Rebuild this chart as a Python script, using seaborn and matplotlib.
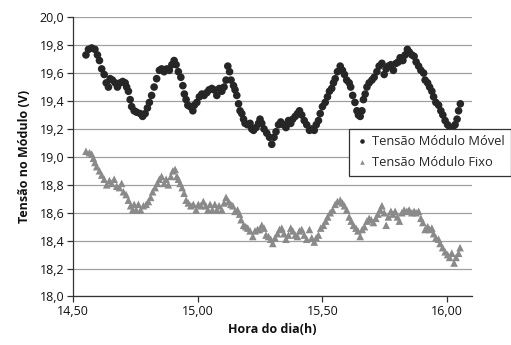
import matplotlib
matplotlib.use("Agg")
import matplotlib.pyplot as plt
import matplotlib.ticker as mticker
import seaborn as sns
import pandas as pd

movel_label = "Tensão Módulo Móvel"
fixo_label = "Tensão Módulo Fixo"

movel_h = [14.553,14.563,14.576,14.589,14.599,14.607,14.616,14.626,14.634,14.643,
14.650,14.659,14.670,14.679,14.690,14.700,14.710,14.716,14.723,14.730,
14.736,14.746,14.756,14.770,14.780,14.790,14.799,14.807,14.816,14.826,
14.836,14.847,14.856,14.866,14.877,14.887,14.897,14.906,14.914,14.923,
14.933,14.941,14.947,14.954,14.961,14.970,14.981,14.987,14.997,15.007,
15.017,15.026,15.037,15.046,15.057,15.066,15.077,15.087,15.097,15.106,
15.114,15.121,15.128,15.134,15.144,15.150,15.157,15.164,15.170,15.177,
15.184,15.190,15.200,15.210,15.217,15.224,15.234,15.244,15.250,15.257,
15.266,15.277,15.288,15.297,15.306,15.314,15.324,15.333,15.344,15.354,
15.364,15.373,15.381,15.391,15.400,15.408,15.417,15.427,15.437,15.448,
15.457,15.467,15.475,15.484,15.491,15.500,15.511,15.520,15.528,15.537,
15.544,15.551,15.560,15.571,15.580,15.588,15.597,15.607,15.613,15.621,
15.630,15.638,15.644,15.651,15.658,15.664,15.671,15.678,15.687,15.698,
15.707,15.718,15.727,15.738,15.747,15.755,15.764,15.774,15.784,15.795,
15.804,15.811,15.822,15.831,15.840,15.848,15.858,15.867,15.875,15.885,
15.894,15.905,15.911,15.921,15.929,15.938,15.945,15.954,15.965,15.974,
15.982,15.991,16.001,16.011,16.021,16.031,16.039,16.045,16.052]

movel_v = [19.73,19.77,19.78,19.77,19.73,19.69,19.63,19.59,19.53,19.50,
19.56,19.55,19.53,19.50,19.53,19.54,19.53,19.50,19.47,19.41,
19.36,19.33,19.32,19.31,19.29,19.31,19.35,19.39,19.44,19.50,
19.56,19.62,19.63,19.61,19.63,19.62,19.66,19.69,19.66,19.61,
19.57,19.51,19.45,19.41,19.37,19.36,19.33,19.37,19.39,19.43,
19.45,19.44,19.46,19.48,19.49,19.48,19.44,19.49,19.47,19.50,
19.55,19.65,19.61,19.55,19.51,19.48,19.44,19.38,19.33,19.31,
19.27,19.24,19.23,19.24,19.20,19.19,19.21,19.24,19.27,19.24,
19.20,19.17,19.14,19.09,19.14,19.18,19.23,19.25,19.23,19.21,
19.26,19.24,19.27,19.29,19.31,19.33,19.30,19.26,19.23,19.19,
19.20,19.19,19.23,19.26,19.31,19.36,19.39,19.43,19.47,19.49,
19.53,19.56,19.61,19.65,19.62,19.59,19.55,19.53,19.50,19.44,
19.39,19.33,19.30,19.29,19.33,19.41,19.45,19.50,19.53,19.55,
19.57,19.61,19.65,19.67,19.59,19.63,19.65,19.66,19.62,19.67,
19.68,19.71,19.69,19.73,19.77,19.75,19.73,19.72,19.68,19.65,
19.62,19.60,19.55,19.53,19.50,19.47,19.43,19.39,19.37,19.33,
19.30,19.26,19.23,19.21,19.21,19.23,19.27,19.33,19.38]

fixo_h = [14.553,14.567,14.576,14.583,14.589,14.596,14.607,14.616,14.626,14.636,
14.647,14.656,14.666,14.676,14.687,14.696,14.703,14.714,14.723,14.732,
14.740,14.746,14.754,14.763,14.772,14.783,14.794,14.803,14.812,14.820,
14.830,14.839,14.847,14.856,14.866,14.874,14.883,14.893,14.901,14.910,
14.917,14.923,14.930,14.938,14.946,14.954,14.963,14.973,14.983,14.994,
15.003,15.013,15.023,15.033,15.041,15.050,15.059,15.069,15.077,15.086,
15.097,15.106,15.114,15.124,15.133,15.141,15.150,15.160,15.168,15.174,
15.184,15.193,15.201,15.210,15.221,15.230,15.240,15.248,15.257,15.266,
15.274,15.284,15.293,15.301,15.310,15.320,15.328,15.337,15.346,15.354,
15.364,15.373,15.381,15.391,15.400,15.408,15.417,15.427,15.437,15.448,
15.457,15.467,15.475,15.484,15.493,15.504,15.513,15.521,15.531,15.541,
15.551,15.560,15.571,15.580,15.588,15.597,15.607,15.615,15.624,15.634,
15.642,15.651,15.659,15.668,15.678,15.687,15.695,15.704,15.714,15.722,
15.731,15.738,15.747,15.755,15.764,15.774,15.782,15.791,15.800,15.808,
15.818,15.827,15.838,15.847,15.858,15.867,15.875,15.885,15.894,15.902,
15.911,15.921,15.929,15.938,15.945,15.954,15.965,15.971,15.981,15.991,
16.001,16.009,16.018,16.027,16.035,16.045,16.051]

fixo_v = [19.04,19.03,19.02,18.99,18.96,18.93,18.90,18.87,18.84,18.80,
18.83,18.81,18.84,18.79,18.78,18.81,18.75,18.73,18.69,18.65,
18.62,18.66,18.62,18.66,18.62,18.65,18.66,18.68,18.71,18.75,
18.78,18.81,18.84,18.86,18.81,18.84,18.80,18.86,18.90,18.91,
18.86,18.84,18.81,18.78,18.74,18.69,18.67,18.65,18.66,18.62,
18.66,18.65,18.68,18.65,18.62,18.66,18.62,18.66,18.62,18.65,
18.62,18.67,18.71,18.68,18.66,18.65,18.61,18.62,18.59,18.55,
18.51,18.50,18.49,18.47,18.43,18.47,18.48,18.48,18.51,18.49,
18.44,18.43,18.41,18.38,18.42,18.45,18.48,18.49,18.45,18.41,
18.44,18.49,18.47,18.44,18.43,18.47,18.48,18.44,18.41,18.48,
18.42,18.39,18.42,18.44,18.49,18.51,18.54,18.57,18.60,18.62,
18.66,18.68,18.69,18.67,18.65,18.62,18.57,18.54,18.51,18.49,
18.47,18.43,18.48,18.50,18.54,18.56,18.55,18.53,18.56,18.59,
18.62,18.65,18.60,18.51,18.57,18.61,18.59,18.61,18.57,18.54,
18.60,18.62,18.61,18.62,18.60,18.61,18.60,18.61,18.56,18.53,
18.48,18.50,18.48,18.49,18.45,18.42,18.41,18.38,18.35,18.32,
18.30,18.28,18.31,18.24,18.28,18.31,18.35]

x_ticks = [14.5, 15.0, 15.5, 16.0]
y_ticks = [18.0, 18.2, 18.4, 18.6, 18.8, 19.0, 19.2, 19.4, 19.6, 19.8, 20.0]

df = pd.concat([
    pd.DataFrame({"hora": movel_h, "tensao": movel_v, "serie": movel_label}),
    pd.DataFrame({"hora": fixo_h, "tensao": fixo_v, "serie": fixo_label}),
], ignore_index=True)

sns.set_theme(style="white")
plt.rcParams["font.family"] = ["Open Sans", "DejaVu Sans"]

fig = plt.figure(figsize=(5.11, 3.45), dpi=100)
ax = fig.add_axes([0.1423, 0.1406, 0.782, 0.8094])

sns.scatterplot(data=df, x="hora", y="tensao", hue="serie", style="serie",
                markers={movel_label: "o", fixo_label: "^"},
                palette={movel_label: "#262626", fixo_label: "#8a8a8a"},
                s=30, linewidth=0, ax=ax, legend=True, zorder=3)

ax.set_xlim(14.5, 16.1)
ax.set_ylim(18.0, 20.0)
ax.set_xticks(x_ticks)
ax.set_yticks(y_ticks)
ax.xaxis.set_major_formatter(mticker.FuncFormatter(lambda v, p: f"{v:.2f}".replace(".", ",")))
ax.yaxis.set_major_formatter(mticker.FuncFormatter(lambda v, p: f"{v:.1f}".replace(".", ",")))
ax.grid(axis="y", color="#a0a0a0", linewidth=0.9)
ax.set_axisbelow(True)
for s in ["top", "right"]:
    ax.spines[s].set_visible(False)
for s in ["left", "bottom"]:
    ax.spines[s].set_color("#333333")
    ax.spines[s].set_linewidth(0.9)
ax.tick_params(axis="both", which="major", direction="out", length=4, width=0.9,
               color="#333333", labelsize=9, labelcolor="#111111", bottom=True, left=True, pad=2)
ax.set_xlabel("Hora do dia(h)", fontsize=9, fontweight="bold", color="#111111", labelpad=4)
ax.set_ylabel("Tensão no Módulo (V)", fontsize=9, fontweight="bold", color="#111111", labelpad=6)

handles, labels = ax.get_legend_handles_labels()
ax.legend_.remove()
leg = fig.legend(handles, labels, loc="upper left", bbox_to_anchor=(349/511, 1 - 129/345),
                 bbox_transform=fig.transFigure, frameon=True, fancybox=False,
                 fontsize=9.3, handletextpad=0.3, handlelength=1.0, markerscale=0.6,
                 borderpad=0.5, labelspacing=0.6, borderaxespad=0)
leg.get_frame().set_edgecolor("#333333")
leg.get_frame().set_linewidth(0.9)
leg.get_frame().set_facecolor("white")
leg.get_frame().set_alpha(1)

fig.savefig("out.png", dpi=100)
